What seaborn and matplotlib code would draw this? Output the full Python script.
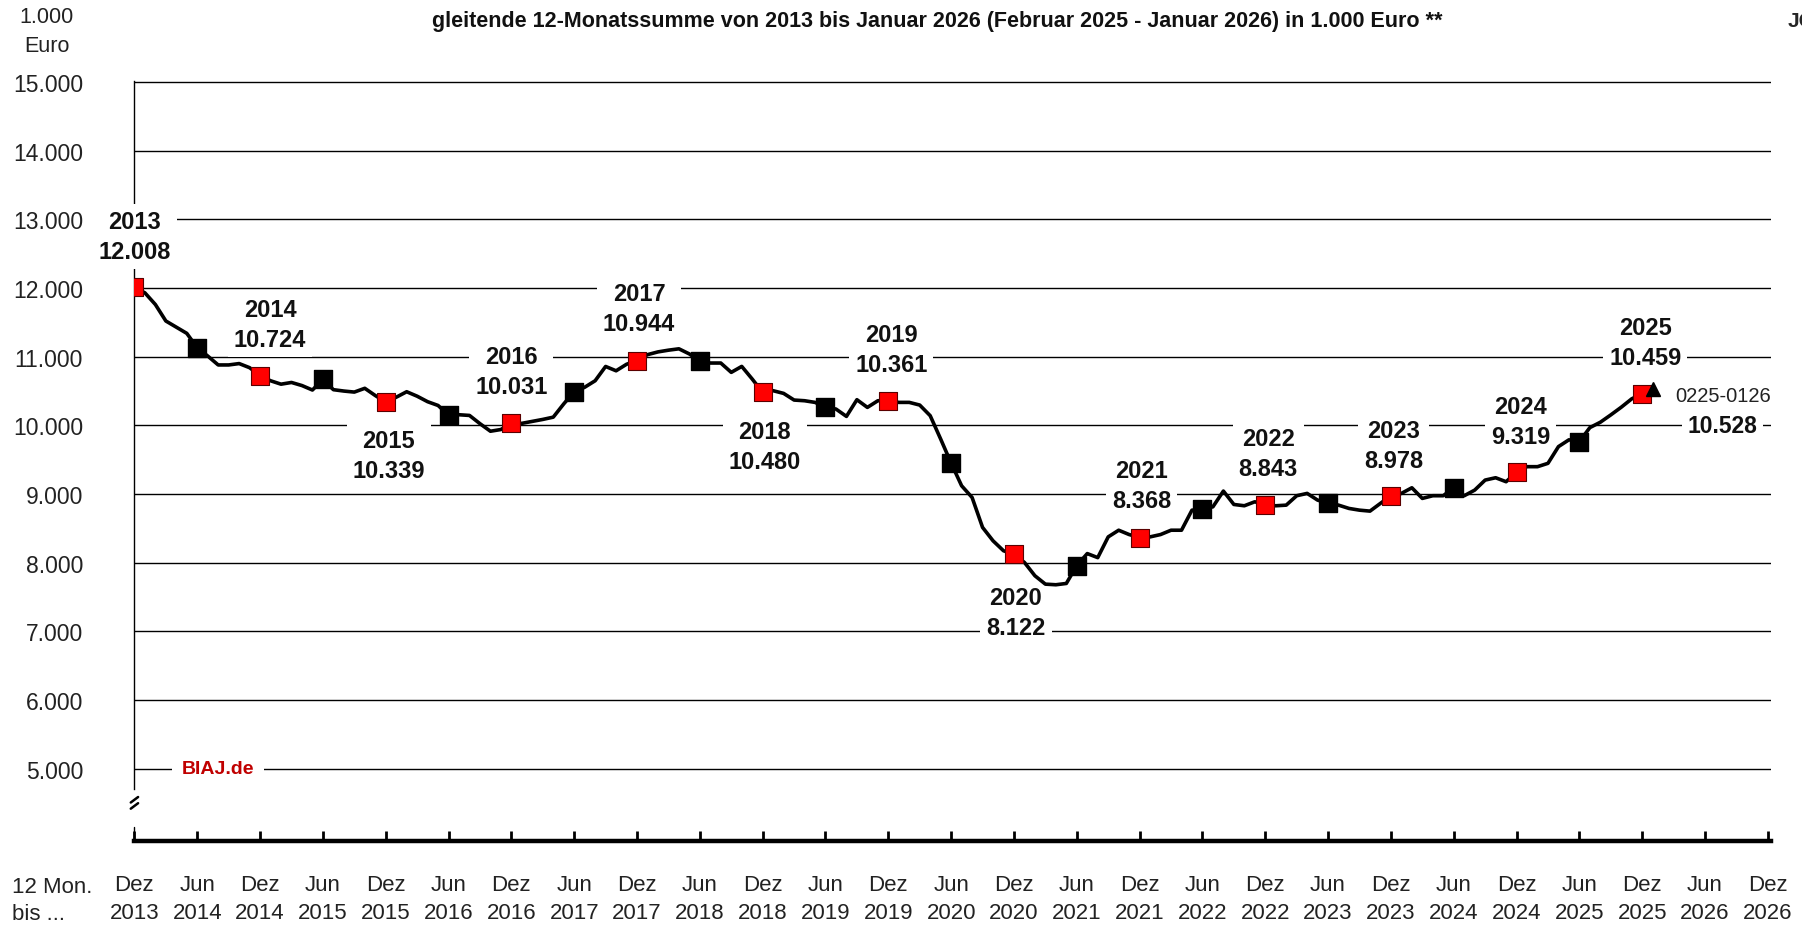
import numpy as np
import pandas as pd
import matplotlib.pyplot as plt
import matplotlib.ticker as mticker
import seaborn as sns

# rolling 12-month sums in 1.000 Euro, one value per month, Dez 2013 .. Jan 2026
monthly = [
    12008, 11930, 11760, 11520, 11430, 11340, 11130, 11010, 10880, 10880, 10900, 10840,
    10724, 10650, 10600, 10625, 10580, 10515, 10670, 10520, 10500, 10485, 10540, 10435,
    10339, 10410, 10490, 10425, 10345, 10290, 10150, 10155, 10145, 10025, 9915, 9940,
    10031, 10030, 10058, 10087, 10120, 10313, 10490, 10555, 10650, 10858, 10795, 10890,
    10944, 11030, 11070, 11095, 11115, 11040, 10935, 10908, 10908, 10772, 10859, 10675,
    10480, 10505, 10466, 10369, 10359, 10335, 10264, 10238, 10131, 10374, 10262, 10359,
    10361, 10335, 10335, 10296, 10141, 9801, 9450, 9121, 8951, 8515, 8320, 8175,
    8122, 8005, 7811, 7689, 7680, 7699, 7960, 8134, 8075, 8377, 8474, 8411,
    8368, 8377, 8411, 8474, 8474, 8766, 8776, 8815, 9044, 8849, 8830, 8888,
    8843, 8830, 8839, 8976, 9010, 8912, 8870, 8839, 8791, 8766, 8752, 8864,
    8978, 9010, 9092, 8937, 8976, 8976, 9095, 8976, 9058, 9204, 9238, 9180,
    9319, 9399, 9399, 9448, 9691, 9790, 9765, 9968, 10046, 10153, 10265, 10387,
    10459, 10528,
]
years = list(range(2013, 2026))
annual = [12008, 10724, 10339, 10031, 10944, 10480, 10361, 8122, 8368, 8843, 8978, 9319, 10459]
last_label = "0225-0126"
last_value = 10528

tick_months = ["Dez", "Jun"]
tick_years = [y for y in range(2013, 2027) for _ in (0, 1)][1:]
y_ticks = list(range(5000, 15001, 1000))


def de_num(v):
    return f"{v:,.0f}".replace(",", ".")


df = pd.DataFrame({"month": np.arange(len(monthly)), "value": monthly})
dez = df[df["month"] % 12 == 0].iloc[:len(annual)]
jun = df[df["month"] % 12 == 6]

sns.set_theme(style="white")
plt.rcParams["font.family"] = ["Liberation Sans", "DejaVu Sans"]

fig = plt.figure(figsize=(18.02, 9.28), dpi=100)
ax = fig.add_axes([0.0746, 0.0927, 0.9082, 0.8194])

# main line
sns.lineplot(data=df, x="month", y="value", color="black", lw=2.6, ax=ax, zorder=3)
# June markers black, December markers red
sns.scatterplot(data=jun, x="month", y="value", marker="s", color="black",
                edgecolor="black", s=150, ax=ax, zorder=4)
sns.scatterplot(data=dez, x="month", y="value", marker="s", color="#FF0000",
                edgecolor="#5a0000", linewidth=0.8, s=150, ax=ax, zorder=4)
ax.plot(df["month"].iloc[-1], last_value, marker="^", color="black", ms=10, zorder=5)

ax.set_xlim(0, 156.3)
ax.set_ylim(3950, 15020)
ax.set_xlabel("")
ax.set_ylabel("")

ax.set_yticks(y_ticks)
ax.yaxis.set_major_formatter(mticker.FuncFormatter(lambda v, p: de_num(v)))
ax.grid(axis="y", color="black", lw=1.0)
ax.grid(axis="x", visible=False)
ax.tick_params(axis="y", length=0, pad=37, labelsize=16.5, labelcolor="#222222")

xt = list(range(0, 157, 6))
ax.set_xticks(xt)
ax.set_xticklabels([f"{tick_months[i % 2]}\n{tick_years[i]}" for i in range(len(xt))],
                   fontsize=16, linespacing=1.42, color="#222222")
ax.tick_params(axis="x", direction="in", length=7, width=2, color="black", pad=24,
               bottom=True)

for s in ["top", "right"]:
    ax.spines[s].set_visible(False)
ax.spines["bottom"].set_linewidth(3.2)
ax.spines["bottom"].set_color("black")
ax.spines["left"].set_color("black")
ax.spines["left"].set_linewidth(1.0)
ax.spines["left"].set_bounds(4710, 15020)
# short stub of the y axis below the break and the break marks
ax.plot([0, 0], [3950, 4160], color="black", lw=1.0, clip_on=False)
for off in (0, 90):
    ax.plot([-0.35, 0.35], [4420 + off, 4500 + off], color="black", lw=1.8, clip_on=False)

# year labels (white boxes interrupt gridlines and axis, the curve stays on top)
dx = [0, 10, 3, 0, 2, 2, 3, 2, 2, 3, 3, 4, 3]
dy = [51, 51, -53, 52, 52, -54, 51, -58, 52, 51, 50, 51, 51]
for k, (yr, val) in enumerate(zip(years, annual)):
    ax.annotate(f"{yr}\n{de_num(val)}", xy=(12 * k, val), xytext=(dx[k], dy[k]),
                textcoords="offset pixels", ha="center", va="center", fontsize=17,
                fontweight="bold", linespacing=1.4, color="#111111", zorder=2.7,
                bbox=dict(boxstyle="square,pad=0.25", fc="white", ec="none"))
ax.annotate(last_label, xy=(df["month"].iloc[-1], last_value), xytext=(70, -6),
            textcoords="offset pixels", ha="center", va="center", fontsize=14.5,
            color="#222222", zorder=2.7)
ax.annotate(de_num(last_value), xy=(df["month"].iloc[-1], last_value), xytext=(70, -36),
            textcoords="offset pixels", ha="center", va="center", fontsize=16.5,
            fontweight="bold", color="#111111", zorder=2.7,
            bbox=dict(boxstyle="square,pad=0.25", fc="white", ec="none"))

ax.text(0.051, 5000, "BIAJ.de", transform=ax.get_yaxis_transform(), ha="center",
        va="center", fontsize=14, fontweight="bold", color="#C00000", zorder=2.7,
        bbox=dict(boxstyle="square,pad=0.5", fc="white", ec="none"))

fig.text(0.52, 0.977, "gleitende 12-Monatssumme von 2013 bis Januar 2026 "
         "(Februar 2025 - Januar 2026) in 1.000 Euro **", ha="center", va="center",
         fontsize=15.5, fontweight="bold", color="#111111")
fig.text(0.992, 0.977, "JC", ha="left", va="center", fontsize=15, fontweight="bold")
fig.text(0.026, 0.965, "1.000\nEuro", ha="center", va="center", fontsize=15.5,
         linespacing=1.5, color="#222222")
fig.text(0.0067, 0.029, "12 Mon.\nbis ...", ha="left", va="center", fontsize=16,
         linespacing=1.42, color="#222222")

fig.savefig("out.png", dpi=100)
